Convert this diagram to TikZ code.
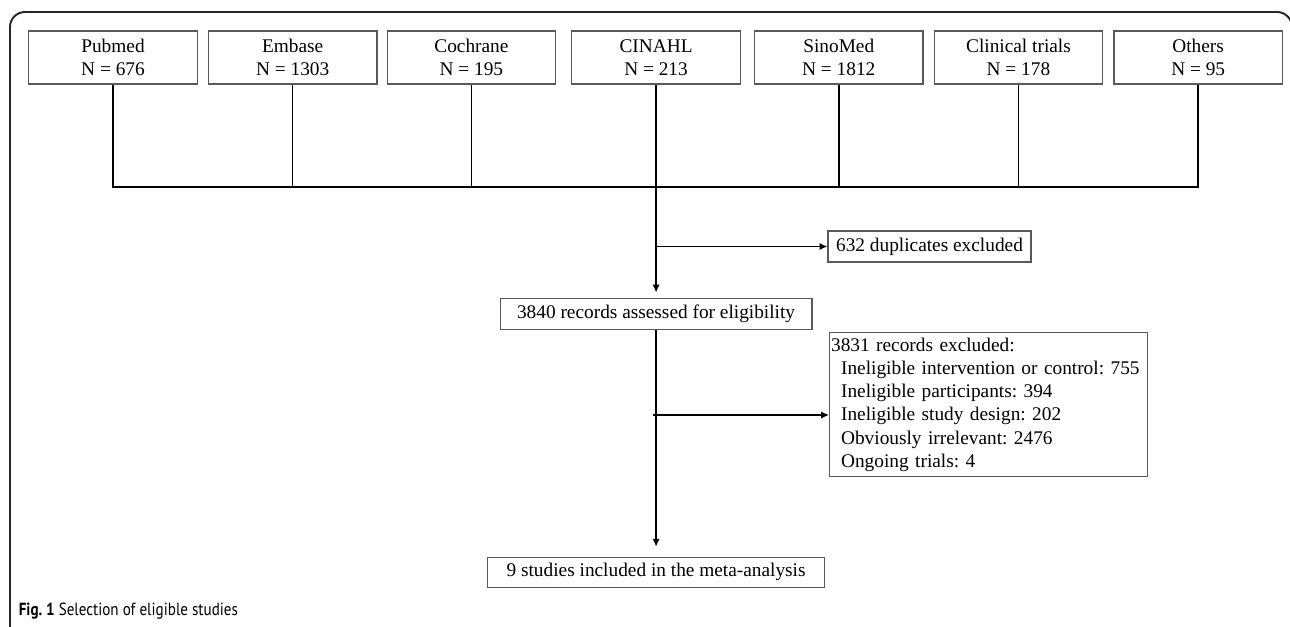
\documentclass[tikz,border=0pt]{standalone}
\usepackage{fontspec}
\setmainfont{Liberation Serif}
\newfontfamily\capfont{PT Sans}
\usepackage{tikz}
\usetikzlibrary{positioning,arrows.meta}
\frenchspacing

\begin{document}
\begin{tikzpicture}[x=0.02cm, y=-0.02cm, line width=0.9pt,
  main/.style = {draw=black!65, line width=0.7pt, minimum width=3.37cm, minimum height=1.06cm, align=center, inner sep=0pt, font=\fontsize{11}{13.2}\selectfont},
  box/.style = {draw=black!65, line width=0.7pt, minimum height=0.62cm, inner sep=0pt, font=\fontsize{11}{13.2}\selectfont},
  >={Latex[length=4.5pt,width=4.2pt]}]
\useasboundingbox (0,0) rectangle (1290,626);
% frame round the figure
\begin{scope}
\clip (0,0) rectangle (1290,626);
\draw[black!85, line width=1.1pt, rounded corners=0.3cm] (10,660) -- (10,12) -- (1292,12) -- (1292,660);
\end{scope}
%\node[style] (name) [relative position] {label};
\node[main] (pubmed) at (113,57.5) {Pubmed\\N = 676};
\node[main] (embase) [right=0.2cm of pubmed] {Embase\\N = 1303};
\node[main] (cochrane) [right=0.18cm of embase] {Cochrane\\N = 195};
\node[main] (cinahl) [right=0.3cm of cochrane] {CINAHL\\N = 213};
\node[main] (sinomed) [right=0.26cm of cinahl] {SinoMed\\N = 1812};
\node[main] (trials) [right=0.2cm of sinomed] {Clinical trials\\N = 178};
\node[main] (others) [right=0.2cm of trials] {Others\\N = 95};
\node[box, minimum width=6.24cm] (assessed) [below=4.26cm of cinahl] {3840 records assessed for eligibility};
\node[box, minimum width=6.74cm, minimum height=0.6cm] (included) [below=4.54cm of assessed] {9 studies included in the meta-analysis};
\node[box, minimum width=4.06cm] (dup) at (929.5,246.5) {632 duplicates excluded};
\node[box, text width=6.3cm, align=left, inner xsep=0.03cm, minimum height=2.88cm, anchor=north west] (excl) at (829,332) {3831 records excluded:\\
  \hspace*{0.2cm}Ineligible intervention or control: 755\\
  \hspace*{0.2cm}Ineligible participants: 394\\
  \hspace*{0.2cm}Ineligible study design: 202\\
  \hspace*{0.2cm}Obviously irrelevant: 2476\\
  \hspace*{0.2cm}Ongoing trials: 4};
\coordinate (bus) at (652.5,187);
\coordinate (split) at (652.5,415);
\draw (pubmed.south) |- (bus) -| (others.south);
\draw (embase.south) -- (embase.south |- bus);
\draw (cochrane.south) -- (cochrane.south |- bus);
\draw (sinomed.south) -- (sinomed.south |- bus);
\draw (trials.south) -- (trials.south |- bus);
\draw[->, shorten >=0.1cm] (cinahl.south) -- (assessed.north);
\draw[->] (dup.west -| cinahl.south) -- (dup.west);
\draw[->, shorten >=0.2cm] (assessed.south) -- (included.north);
\draw[->] (split) -- (split -| excl.west);
\node[anchor=west, inner sep=0pt, font=\capfont\fontsize{10}{12}\selectfont] (caption) at (18,611) {\scalebox{0.86}[1]{\textbf{Fig. 1} Selection of eligible studies}};
\end{tikzpicture}
\end{document}
